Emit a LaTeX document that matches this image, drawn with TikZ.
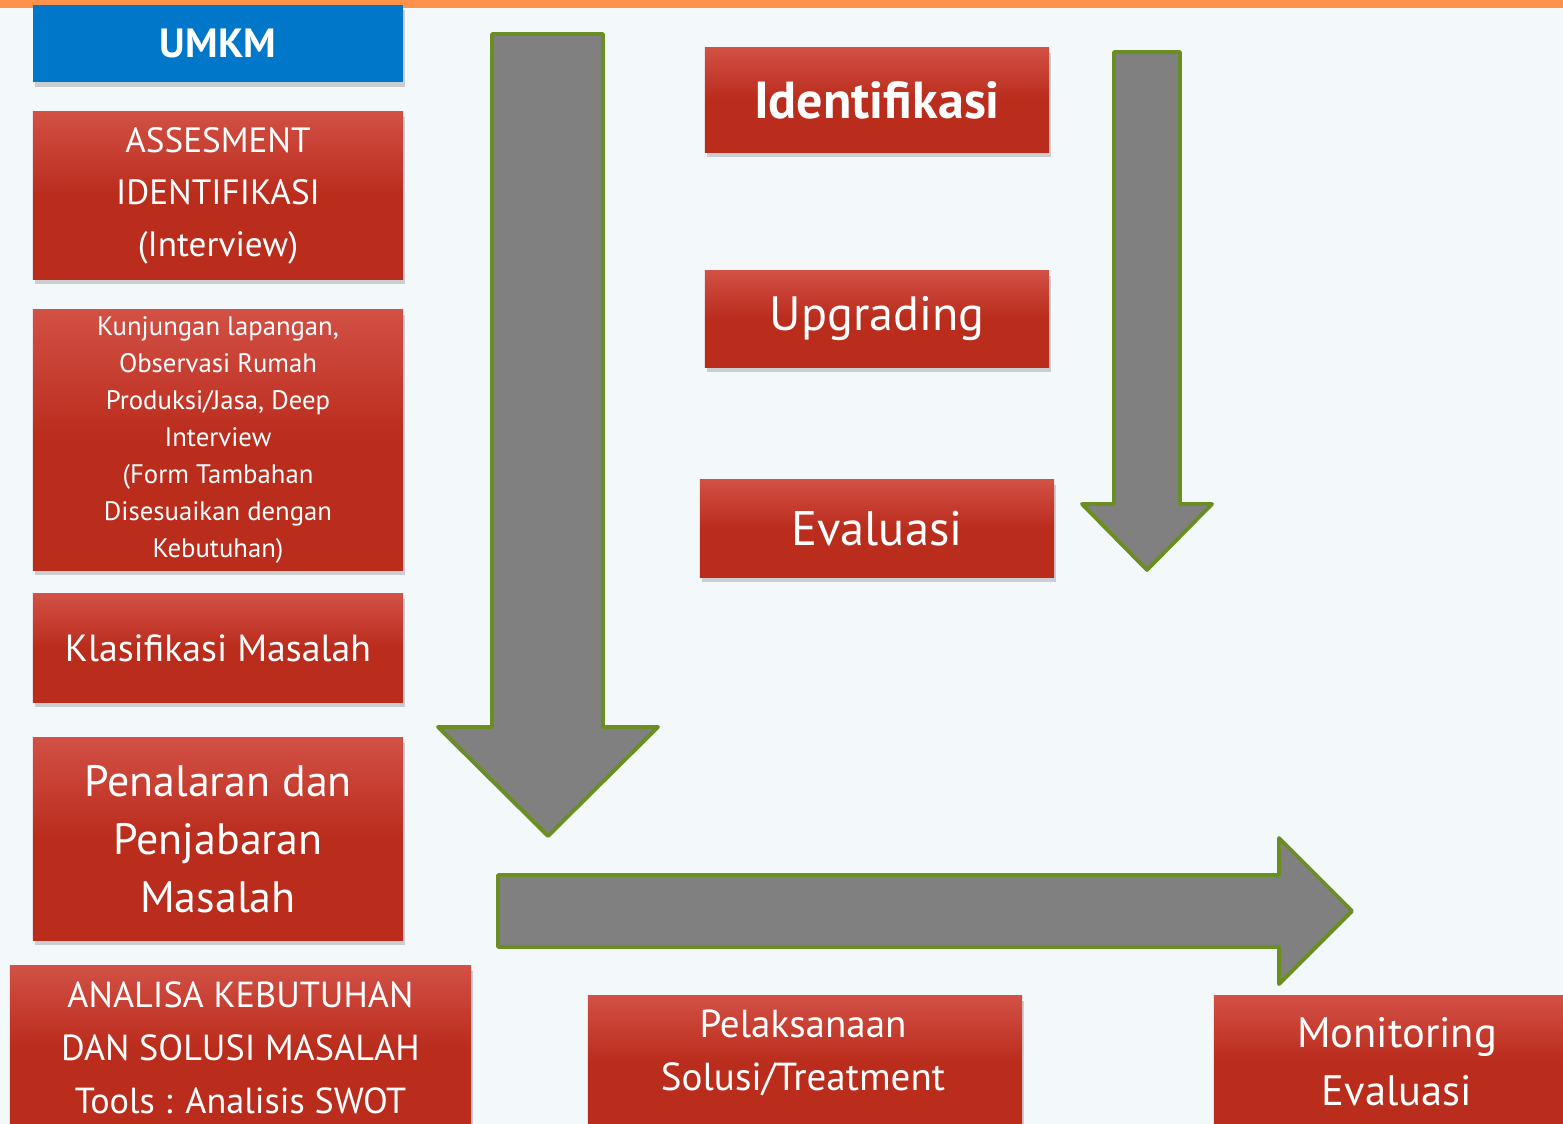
\documentclass[tikz,border=0pt]{standalone}
\usepackage{fontspec}
\setmainfont{PT Sans}
\usetikzlibrary{shadows}

\definecolor{pagebg}{HTML}{F3F8FB}
\definecolor{topbar}{HTML}{FF914D}
\definecolor{umkmblue}{HTML}{0077C8}
\definecolor{boxtop}{RGB}{210,80,69}
\definecolor{boxbot}{RGB}{186,44,28}
\definecolor{arrowgray}{HTML}{808080}
\definecolor{arrowline}{HTML}{6B8E23}

\tikzset{
  redbox/.style={rectangle, inner sep=0pt, align=center, text=white,
    top color=boxtop, bottom color=boxbot, middle color=boxbot,
    drop shadow={opacity=0.35, shadow xshift=0.6pt, shadow yshift=-1.5pt}},
  bluebox/.style={rectangle, inner sep=0pt, align=center, text=white, fill=umkmblue,
    drop shadow={opacity=0.35, shadow xshift=0.6pt, shadow yshift=-1.5pt}},
  boxtext/.style={inner sep=0pt, align=center, text=white},
  blockarrow/.style={fill=arrowgray, draw=arrowline, line width=1.1pt, line join=round}
}

\begin{document}
\begin{tikzpicture}[x=0.01cm,y=-0.01cm]
\clip (0,0) rectangle (1563,1124);
\fill [pagebg] (0,0) rectangle (1563,1124);
\fill [topbar] (0,0) rectangle (1563,8);

\draw [blockarrow] (492,34) -- (603,34) -- (603,727) -- (658,727) -- (548,836) -- (438,727) -- (492,727) -- cycle;
\draw [blockarrow] (1114,52) -- (1180,52) -- (1180,504) -- (1212,504) -- (1147,570) -- (1082,504) -- (1114,504) -- cycle;
\draw [blockarrow] (498,875) -- (1279,875) -- (1279,838) -- (1352,911) -- (1279,984) -- (1279,947) -- (498,947) -- cycle;

\node (umkm) [bluebox, minimum width=3.7cm, minimum height=0.77cm,
  font=\fontsize{11.6}{14}\selectfont\bfseries] at (218,43.5) {UMKM};
\node (assesment) [redbox, minimum width=3.7cm, minimum height=1.67cm,
  font=\fontsize{10}{14.8}\selectfont] at (218,195.5) {ASSESMENT\\IDENTIFIKASI\\(Interview)};
\node (kunjungan) [redbox, minimum width=3.7cm, minimum height=2.6cm,
  font=\fontsize{7.6}{10.5}\selectfont] at (218,440)
  {Kunjungan lapangan,\\Observasi Rumah\\Produksi/Jasa, Deep\\Interview\\ (Form Tambahan\\Disesuaikan dengan\\Kebutuhan)};
\node (klasifikasi) [redbox, minimum width=3.7cm, minimum height=1.08cm,
  font=\fontsize{10.75}{13}\selectfont] at (218,648) {Klasifikasi Masalah};
\node (penalaran) [redbox, minimum width=3.7cm, minimum height=2.02cm,
  font=\fontsize{12.5}{16.5}\selectfont] at (218,839) {Penalaran dan\\Penjabaran\\Masalah};
\node (analisa) [redbox, minimum width=4.61cm, minimum height=1.64cm,
  font=\fontsize{10.3}{15}\selectfont] at (240.5,1048)
  {ANALISA KEBUTUHAN\\DAN SOLUSI MASALAH\\Tools : Analisis SWOT};

\node (identifikasi) [redbox, minimum width=3.44cm, minimum height=1.04cm,
  font=\fontsize{14.8}{16}\selectfont\bfseries] at (877,100) {Identifikasi};
\node (upgrading) [redbox, minimum width=3.44cm, minimum height=0.96cm,
  font=\fontsize{13.7}{16}\selectfont] at (877,319) {Upgrading};
\node (evaluasi) [redbox, minimum width=3.54cm, minimum height=0.97cm,
  font=\fontsize{13.8}{16}\selectfont] at (877,528.5) {Evaluasi};

\node (pelaksanaan) [redbox, minimum width=4.34cm, minimum height=1.34cm] at (805,1063) {};
\node (pelaksanaan-text) [boxtext, font=\fontsize{11.1}{15}\selectfont] at (803,1053)
  {Pelaksanaan\\Solusi/Treatment};
\node (monitoring) [redbox, minimum width=3.66cm, minimum height=1.33cm,
  font=\fontsize{12.1}{16.5}\selectfont] at (1397,1062) {Monitoring\\Evaluasi};
\end{tikzpicture}
\end{document}
